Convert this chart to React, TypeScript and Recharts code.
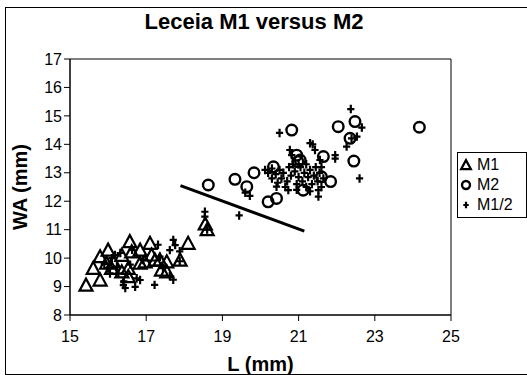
import { ScatterChart, Scatter, XAxis, YAxis, ReferenceArea, ReferenceLine } from "recharts"

// M1 (triangles)
const m1L = [15.42, 15.61, 15.79, 15.79, 16.0, 15.96, 16.09, 16.14, 16.36, 16.36, 16.53, 16.57, 16.62, 16.53, 16.84, 16.84, 16.97, 17.1, 17.14, 17.23, 17.36, 17.4, 17.54, 17.54, 17.89, 18.1, 18.55, 18.6]
const m1WA = [9.05, 9.64, 9.23, 10.05, 10.28, 9.82, 9.64, 9.87, 10.1, 9.52, 9.64, 10.58, 10.22, 9.35, 10.28, 9.82, 9.87, 10.52, 10.11, 9.93, 9.93, 9.58, 9.52, 9.87, 9.93, 10.52, 11.2, 11.0]

// M2 (circles)
const m2L = [18.63, 19.33, 19.64, 19.83, 20.34, 20.2, 20.42, 20.95, 21.12, 20.98, 20.82, 22.04, 22.48, 22.35, 21.65, 22.45, 21.84, 24.17, 21.04, 21.6]
const m2WA = [12.57, 12.77, 12.51, 13.0, 13.21, 11.98, 12.1, 13.62, 12.39, 13.39, 14.5, 14.62, 14.8, 14.21, 13.57, 13.41, 12.69, 14.6, 13.45, 12.86]

// M1/2 (plus)
const m12L = [
  16.0, 16.05, 16.18, 16.23, 16.27, 16.32, 16.4, 16.41, 16.45, 16.58, 16.63, 16.71, 16.75, 16.84, 16.92, 17.22, 17.31, 17.36, 17.44, 17.62, 17.62, 17.71, 17.76, 17.71, 17.88, 17.88, 16.1, 15.9,
  18.54, 18.54, 18.6, 19.44, 19.72, 19.6,
  20.5, 20.77, 20.82, 21.3, 21.37, 21.43, 21.56, 21.96, 21.96, 22.26, 22.39, 22.37, 22.53, 22.66, 22.6, 21.52, 21.52, 20.73, 20.42, 20.12,
  20.2, 20.3, 20.4, 20.5, 20.55, 20.6, 20.7, 20.75, 20.8, 20.9, 20.95, 21.0, 21.05, 21.1, 21.15, 21.2, 21.25, 21.3, 21.35, 21.4, 21.45, 21.5, 21.55, 21.6, 21.65, 20.3, 20.45, 20.65, 20.85, 21.0, 21.2, 20.95, 21.3, 21.6,
]
const m12WA = [
  9.65, 9.46, 10.11, 9.7, 9.46, 10.18, 9.05, 9.18, 8.95, 9.77, 10.29, 8.99, 9.29, 9.23, 9.93, 9.06, 10.47, 10.05, 9.65, 10.28, 9.36, 10.64, 10.46, 9.24, 10.24, 9.89, 10.0, 9.8,
  11.63, 11.46, 11.0, 11.5, 12.19, 12.3,
  14.4, 13.8, 13.62, 14.04, 14.0, 13.8, 13.45, 13.62, 13.5, 13.92, 14.21, 15.24, 14.27, 14.59, 12.8, 12.16, 12.39, 12.39, 12.51, 13.1,
  13.0, 12.8, 12.95, 13.1, 12.8, 13.0, 12.7, 13.2, 12.9, 13.05, 12.6, 12.85, 13.2, 12.7, 13.0, 12.5, 12.85, 13.1, 12.6, 12.9, 13.2, 12.7, 13.0, 12.5, 12.8, 13.15, 12.65, 12.5, 13.3, 13.3, 13.3, 12.4, 12.35, 13.2,
]

// trend line end points
const trendL = [17.9, 21.15]
const trendWA = [12.55, 10.95]

const xTicks = [15, 17, 19, 21, 23, 25]
const yTicks = [8, 9, 10, 11, 12, 13, 14, 15, 16, 17]
const seriesNames = ["M1", "M2", "M1/2"]

const toPoints = (xs: number[], ys: number[]) => xs.map((L, i) => ({ L, WA: ys[i] }))

const FONT = "'Liberation Sans', Arial, Helvetica, sans-serif"

function Tri({ cx, cy, s = 1 }: any) {
  const h = 6.5 * s
  return (
    <polygon
      points={`${cx},${cy - h} ${cx - h},${cy + h * 0.85} ${cx + h},${cy + h * 0.85}`}
      fill="none"
      stroke="#000"
      strokeWidth={2.2}
    />
  )
}

function Circ({ cx, cy, s = 1 }: any) {
  return <circle cx={cx} cy={cy} r={5.3 * s} fill="none" stroke="#000" strokeWidth={2.4} />
}

function Plus({ cx, cy, s = 1 }: any) {
  const a = 3.6 * s
  return <path d={`M${cx - a},${cy}H${cx + a}M${cx},${cy - a - 0.6}V${cy + a + 0.6}`} stroke="#000" strokeWidth={2.2} fill="none" />
}

const markers = [Tri, Circ, Plus]

function LegendBox() {
  return (
    <div
      style={{
        position: "absolute",
        left: 457,
        top: 152,
        width: 70,
        height: 66,
        border: "1px solid #000",
        background: "#fff",
        fontFamily: FONT,
        fontSize: 16,
        boxSizing: "border-box",
        paddingTop: 2,
      }}
    >
      {seriesNames.map((name, i) => {
        const M = markers[i]
        return (
          <div key={name} style={{ display: "flex", alignItems: "center", height: 20 }}>
            <svg width={16} height={20} style={{ flex: "none" }}>
              <M cx={8} cy={10} s={0.75} />
            </svg>
            <span style={{ marginLeft: 3 }}>{name}</span>
          </div>
        )
      })}
    </div>
  )
}

export default function App() {
  return (
    <div style={{ position: "absolute", left: 0, top: 0, width: 527, height: 375, overflow: "hidden", background: "#fff" }}>
      <div style={{ position: "absolute", left: 5, top: 7, width: 530, height: 366, border: "1px solid #000" }} />
      <div
        style={{
          position: "absolute",
          left: 0,
          width: 508,
          top: 9,
          textAlign: "center",
          fontFamily: FONT,
          fontWeight: "bold",
          fontSize: 22,
        }}
      >
        Leceia M1 versus M2
      </div>
      <div style={{ position: "absolute", left: 0, top: 0 }}>
        <ScatterChart width={527} height={375} margin={{ top: 59, right: 76, left: 0, bottom: 0 }}>
          <ReferenceArea x1={15} x2={25} y1={8} y2={17} fill="#fff" stroke="#000" strokeWidth={1} fillOpacity={1} />
          <XAxis
            dataKey="L"
            type="number"
            domain={[15, 25]}
            ticks={xTicks}
            interval={0}
            height={60}
            stroke="#000"
            tickSize={6}
            tickMargin={10}
            tick={{ fill: "#000", fontSize: 16, fontFamily: FONT }}
            label={{ value: "L (mm)", position: "insideBottom", offset: 4, fill: "#000", fontSize: 20, fontWeight: "bold", fontFamily: FONT }}
          />
          <YAxis
            dataKey="WA"
            type="number"
            domain={[8, 17]}
            ticks={yTicks}
            interval={0}
            width={70}
            stroke="#000"
            tickSize={6}
            tick={{ fill: "#000", fontSize: 16, fontFamily: FONT }}
            label={{ value: "WA (mm)", angle: -90, position: "insideLeft", offset: 20, fill: "#000", fontSize: 20, fontWeight: "bold", fontFamily: FONT, style: { textAnchor: "middle" } }}
          />
          <Scatter name="M1" data={toPoints(m1L, m1WA)} shape={(p: any) => <Tri cx={p.cx} cy={p.cy} />} isAnimationActive={false} />
          <Scatter name="M2" data={toPoints(m2L, m2WA)} shape={(p: any) => <Circ cx={p.cx} cy={p.cy} />} isAnimationActive={false} />
          <Scatter name="M1/2" data={toPoints(m12L, m12WA)} shape={(p: any) => <Plus cx={p.cx} cy={p.cy} />} isAnimationActive={false} />
          <ReferenceLine
            segment={[
              { x: trendL[0], y: trendWA[0] },
              { x: trendL[1], y: trendWA[1] },
            ]}
            stroke="#000"
            strokeWidth={3}
          />
        </ScatterChart>
      </div>
      <LegendBox />
    </div>
  )
}
